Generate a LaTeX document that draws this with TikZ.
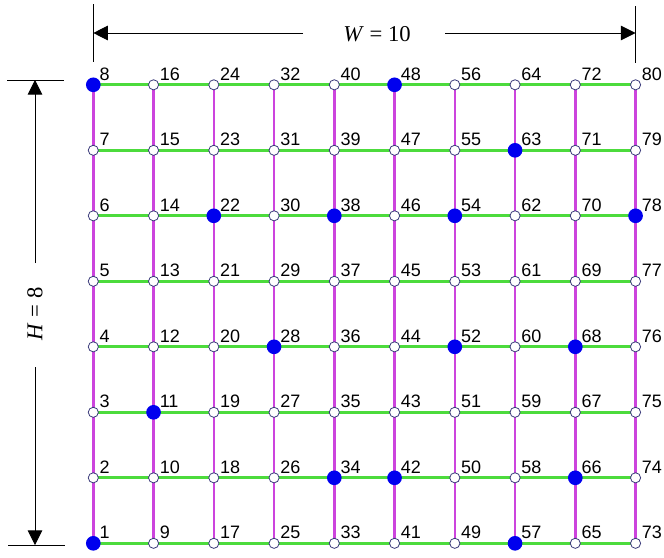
\documentclass[tikz,border=0pt]{standalone}
\usepackage{fontspec}
\setmainfont{Liberation Serif}
\newfontfamily\numfont{Liberation Sans}
\usepackage{xcolor}
\definecolor{rowgreen}{HTML}{4CDB3C}
\definecolor{colmagenta}{HTML}{CC44DD}
\definecolor{relayblue}{HTML}{0000EE}
\definecolor{siteedge}{HTML}{3A3A7A}
\usepackage{tikz}
\usetikzlibrary{arrows.meta,calc,backgrounds}

\makeatletter
\newcommand{\ifrelay}[1]{\edef\relaytest{\noexpand\in@{,#1,}{,1,8,11,22,28,34,38,42,48,52,54,57,63,66,68,78,}}\relaytest
  \ifin@ \def\nodekind{relay}\else \def\nodekind{site}\fi}
\makeatother

\begin{document}
\begin{tikzpicture}[
      x=0.75pt, y=-0.75pt,
      site/.style={circle, draw=siteedge, line width=0.6pt, fill=white,
                   minimum size=7.6pt, inner sep=0pt},
      relay/.style={circle, fill=relayblue, minimum size=11pt, inner sep=0pt},
      idx/.style={anchor=base west, inner sep=0pt, font=\numfont\fontsize{13.5}{15}\selectfont},
      hlink/.style={draw=rowgreen, line width=2.1pt},
      vlink/.style={draw=colmagenta, line width=1.8pt},
      dim/.style={line width=0.7pt, black},
      dimarrow/.style={dim, -{Triangle[length=11pt, width=11pt]}},
      dimtext/.style={font=\fontsize{17}{20}\selectfont, inner sep=0pt},
    ]
    \useasboundingbox (0,0) rectangle (664,557);

    % grid of sensor positions, numbered column by column from the bottom
    \foreach \c in {0,...,9}{
      \foreach \r [evaluate=\r as \k using int(8*\c+\r)] in {1,...,8}{
        \ifrelay{\k}
        \node[\nodekind] (n\k) at ({93.3+60.25*\c},{543.3-65.5*(\r-1)}) {};
        \node[idx] (l\k) at ($(n\k)+(6,-4.5)$) {\k};
      }
    }

    \begin{scope}[on background layer]
      \foreach \k [evaluate=\k as \m using int(\k+8)] in {1,...,72}
        \draw[hlink] (n\k.center) -- (n\m.center);
      \foreach \c in {0,...,9}{
        \foreach \r [evaluate=\r as \k using int(8*\c+\r), evaluate=\r as \m using int(8*\c+\r+1)] in {1,...,7}
          \draw[vlink] (n\k.center) -- (n\m.center);
      }
    \end{scope}

    % width
    \coordinate (wl0) at (93.3,4);   \coordinate (wl1) at (93.3,62);
    \coordinate (wr0) at (635.5,6);  \coordinate (wr1) at (635.5,63);
    \node[dimtext] (wlab) at (377,34) {\textit{W} = 10};
    \coordinate (wla) at (303,33);  \coordinate (wlb) at (93.3,33);
    \coordinate (wra) at (445,33);  \coordinate (wrb) at (635.5,33);
    \draw[dim] (wl0) -- (wl1);
    \draw[dim] (wr0) -- (wr1);
    \draw[dimarrow] (wla) -- (wlb);
    \draw[dimarrow] (wra) -- (wrb);

    % height
    \coordinate (ht0) at (7,80);   \coordinate (ht1) at (64,80);
    \coordinate (hb0) at (8,545);  \coordinate (hb1) at (65,545);
    \node[dimtext, rotate=90] (hlab) at (35,314) {\textit{H} = 8};
    \coordinate (hta) at (35,263);  \coordinate (htb) at (35,80);
    \coordinate (hba) at (35,367);  \coordinate (hbb) at (35,545);
    \draw[dim] (ht0) -- (ht1);
    \draw[dim] (hb0) -- (hb1);
    \draw[dimarrow] (hta) -- (htb);
    \draw[dimarrow] (hba) -- (hbb);
  \end{tikzpicture}
\end{document}
